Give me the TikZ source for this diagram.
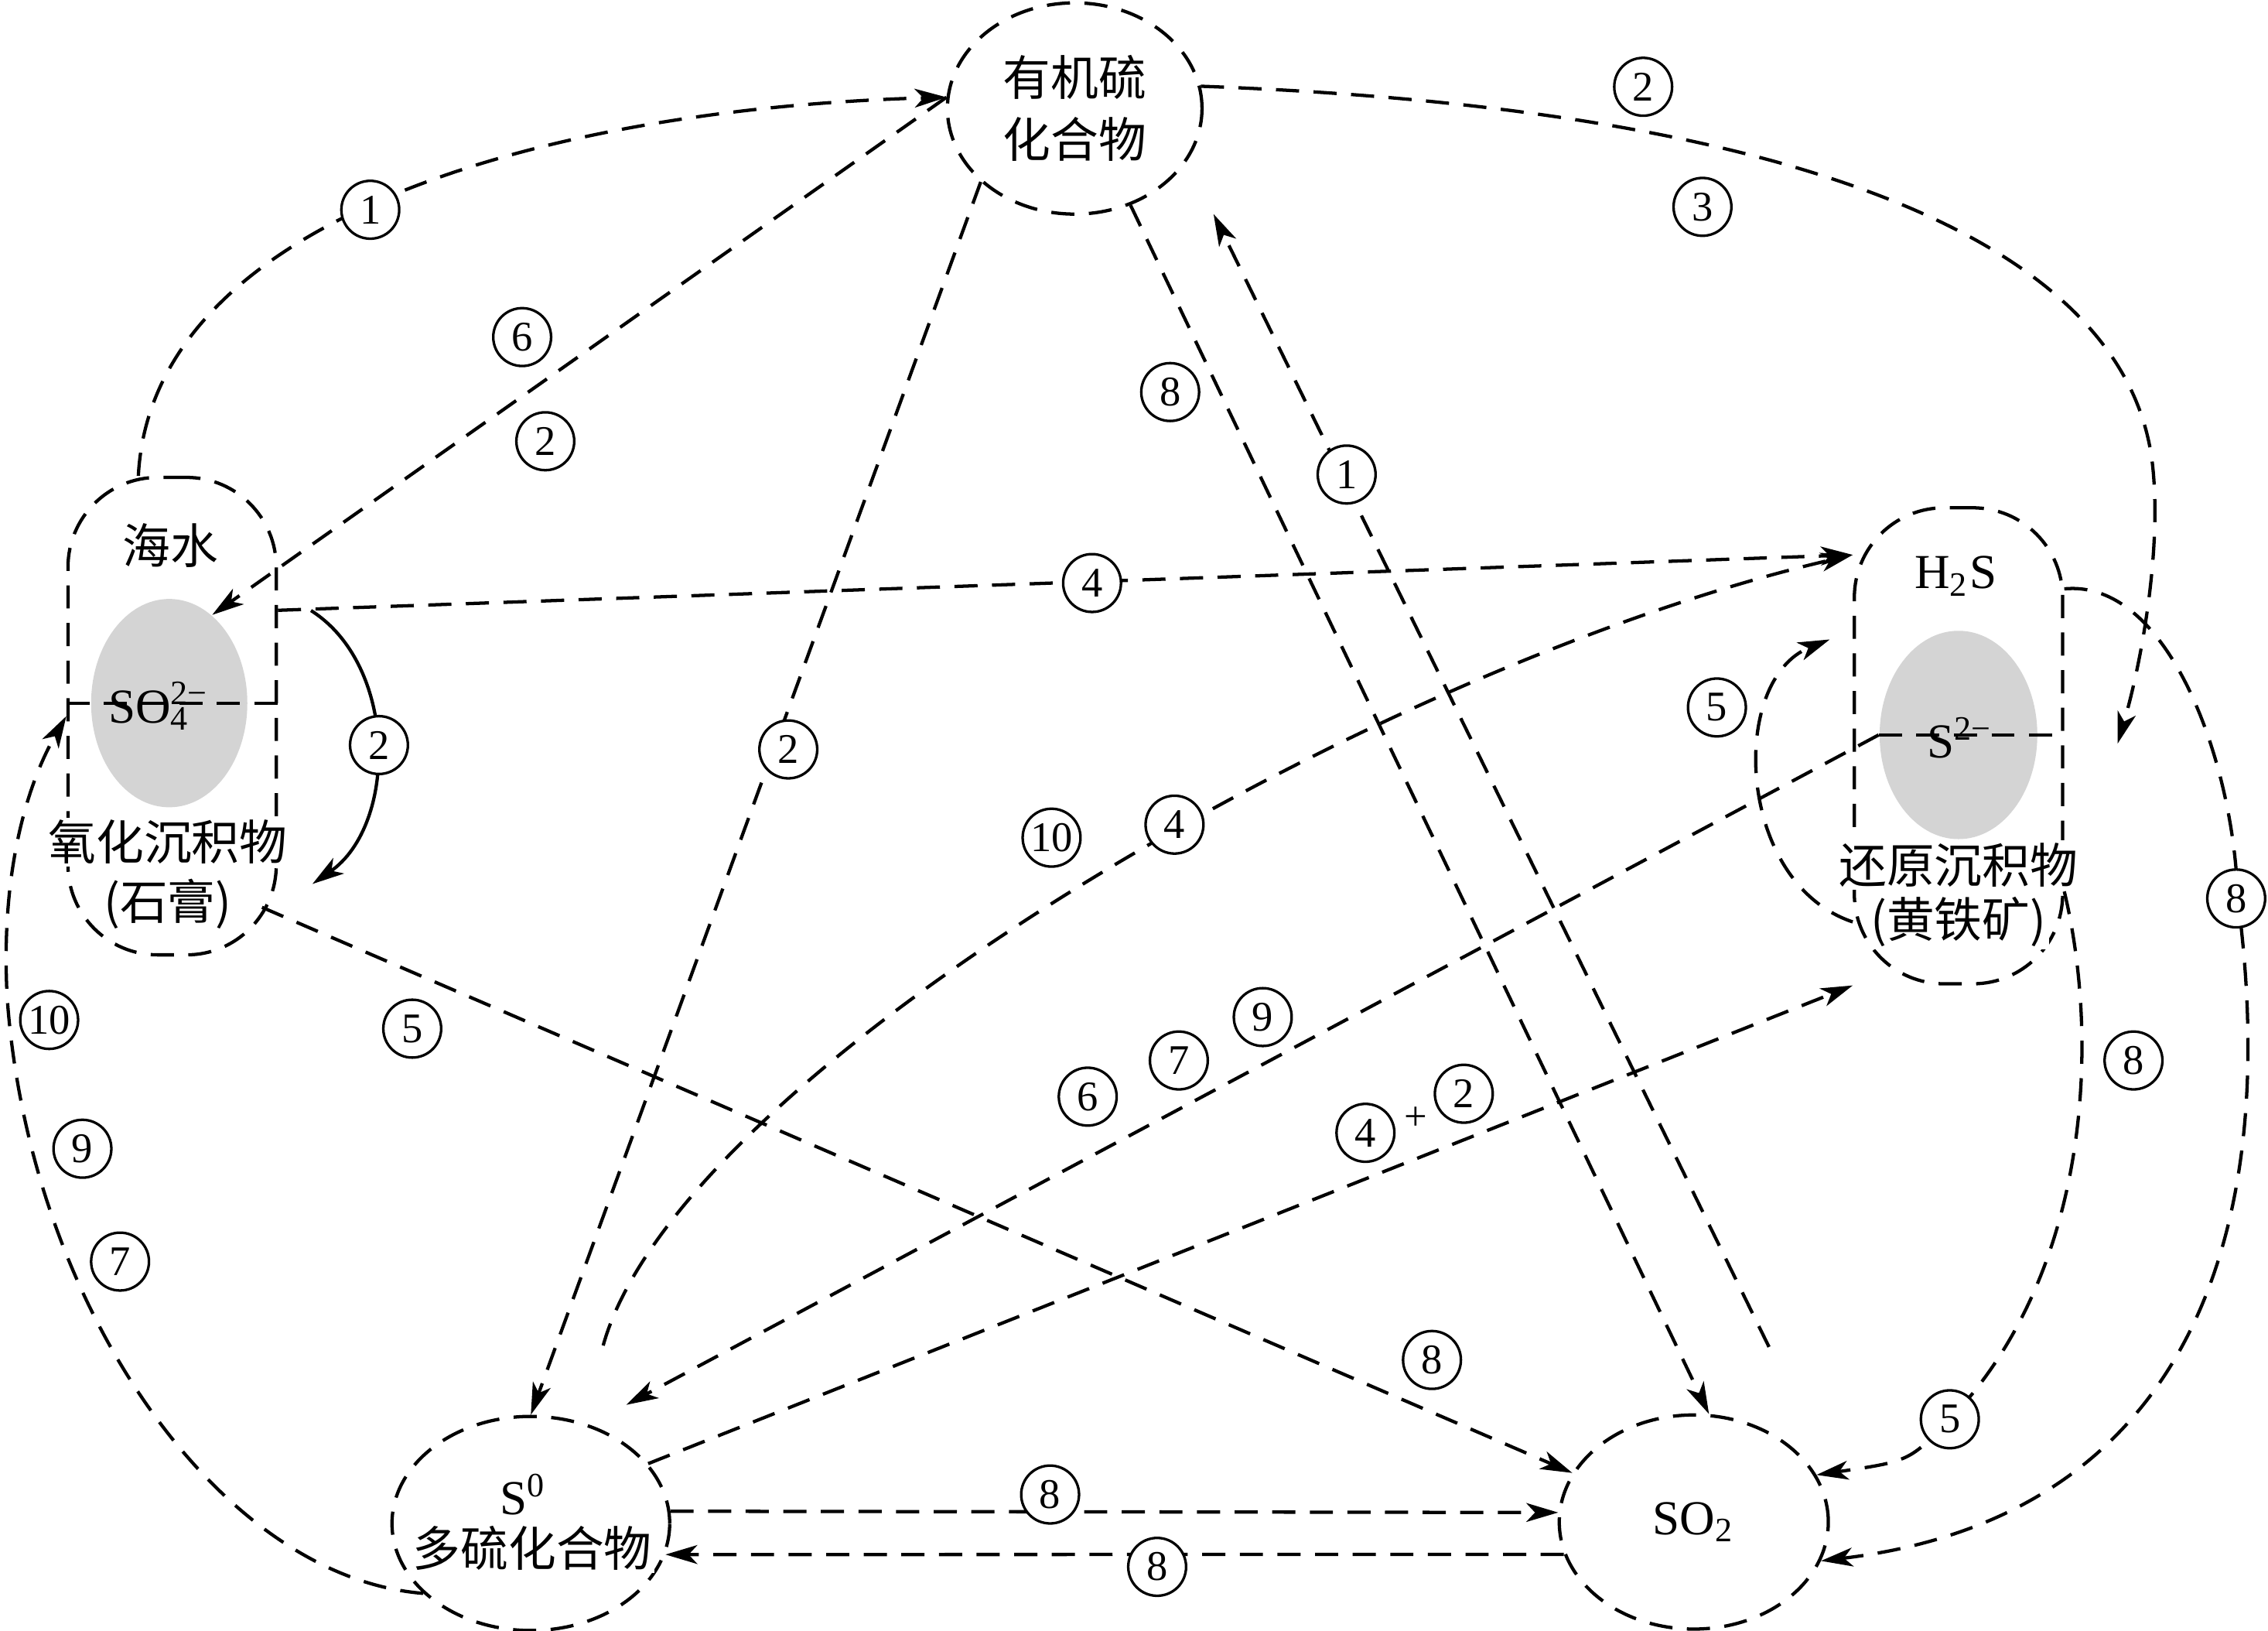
\documentclass[tikz,border=0pt]{standalone}
\usepackage{fontspec}
\setmainfont{Liberation Serif}
\newfontfamily\cjk{Noto Sans CJK SC}
\usetikzlibrary{arrows.meta,shapes.geometric,calc}

\begin{document}
\begin{tikzpicture}[
    dashline/.style={dash pattern=on 1.6mm off 1mm, line width=0.65pt},
    arr/.style={-{Stealth[length=2.2mm,width=1.3mm,inset=0.6mm]}},
    sitebox/.style={rectangle, rounded corners=6.2mm, minimum width=1.44cm, minimum height=3.3cm,
      draw, dashline, inner sep=0pt},
    poolnode/.style={ellipse, draw, dashline, inner sep=0pt},
    coreblob/.style={ellipse, fill=black!17, minimum width=1.08cm, minimum height=1.44cm, inner sep=0pt},
    cntext/.style={font=\cjk\fontsize{9.4}{12.2}\selectfont, inner sep=0.5pt},
    chem/.style={font=\fontsize{9.6}{11}\selectfont, inner sep=0pt},
    numtag/.style={circle, draw, line width=0.5pt, fill=white, minimum size=4mm, inner sep=0pt,
      font=\fontsize{8.3}{9}\selectfont}
  ]
    \useasboundingbox (0,0) rectangle (15.68,-11.27);

    % Pools
    \node[poolnode, cntext, align=center, minimum width=1.76cm, minimum height=1.46cm]
      (org) at (7.43,-0.75) {有机硫\\化合物};
    \node[poolnode, chem, minimum width=1.86cm, minimum height=1.48cm] (so2) at (11.71,-10.52) {SO\textsubscript{2}};
    \node[poolnode, minimum width=1.92cm, minimum height=1.48cm] (s0) at (3.67,-10.53) {};

    % Sediment boxes
    \node[sitebox] (sea) at (1.19,-4.95) {};
    \node[coreblob] (so4) at (1.17,-4.86) {};
    \draw[dashline] (so4 -| sea.west) -- (so4 -| sea.east);

    \node[sitebox, minimum height=3.29cm] (red) at (13.54,-5.155) {};
    \node[coreblob, minimum width=1.09cm] (s2) at (13.54,-5.08) {};
    \draw[dashline] (s2.west) -- (s2.west -| red.east);

    % Free ends
    \coordinate (c2) at (14.64,-5.14);
    \coordinate (e1) at (2.15,-4.22);
    \coordinate (e2) at (2.16,-6.11);
    \coordinate (jfoot) at (12.23,-9.31);
    \coordinate (jtip) at (8.39,-1.48);
    \coordinate (kfoot) at (4.17,-9.30);
    \coordinate (ltip) at (12.65,-4.42);
    \coordinate (mtip) at (4.33,-9.71);

    % Fluxes
    \draw[dashline, arr] (sea.98) .. controls (1.05,-1.50) and (3.80,-0.75) .. (org.175);
    \draw[dashline, arr] (org.175) -- (so4.64);
    \draw[dashline, arr] (org.10) .. controls (12.50,-0.75) and (14.70,-1.70) .. (14.88,-3.20)
      .. controls (14.95,-3.80) and (14.80,-4.60) .. (c2);
    \draw[dashline, arr] (sea.45) -- (red.119);
    \draw[line width=0.65pt, arr] (e1) .. controls (2.75,-4.60) and (2.75,-5.70) .. (e2);
    \draw[dashline, arr] ($(sea.south east)+(-0.11,0.34)$) -- (so2.158);
    \draw[dashline, arr] (s0.213) .. controls (1.50,-10.90) and (0.20,-9.00) .. (0.05,-6.90)
      .. controls (0.00,-6.00) and (0.20,-5.40) .. (sea.west);
    \draw[dashline, arr] (org.218) -- (s0.north);
    \draw[dashline, arr] (org.300) -- (so2.82);
    \draw[dashline, arr] (jfoot) -- (jtip);
    \draw[dashline, arr] (kfoot) .. controls (4.70,-7.40) and (9.50,-4.60) .. (red.119);
    \draw[dashline, arr] (red.239) .. controls (12.00,-6.10) and (11.95,-4.70) .. (ltip);
    \draw[dashline, arr] (s2.west) -- (mtip);
    \draw[dashline, arr] (s0.27) -- (red.south west);
    \draw[dashline, arr] (red.56) .. controls (15.00,-4.00) and (15.45,-5.30) .. (15.47,-6.21)
      .. controls (15.80,-8.70) and (15.00,-10.50) .. (so2.343);
    \draw[dashline, arr] (red.306) .. controls (14.52,-7.20) and (14.45,-8.80) .. (13.48,-9.81)
      .. controls (13.20,-10.10) .. (so2.21);
    \draw[dashline, arr] (s0.5) -- (so2.176);
    \draw[dashline, arr] (so2.194) -- (s0.347);

    % Texts
    \node[chem] (s0lab) at (3.62,-10.33) {S\textsuperscript{0}};
    \node[cntext, fill=white] (polylab) at (3.68,-10.70) {多硫化合物};
    \node[cntext] (sealab) at (1.18,-3.77) {海水};
    \node[chem] (so4lab) at (1.10,-4.88) {SO\rlap{\textsubscript{4}}\textsuperscript{2−}};
    \node[cntext, fill=white] (oxlab) at (1.16,-5.82) {氧化沉积物};
    \node[cntext, fill=white] (gyplab) at (1.16,-6.25) {(石膏)};
    \node[chem] (h2slab) at (13.52,-3.98) {H\textsubscript{2}S};
    \node[chem] (s2lab) at (13.55,-5.10) {S\textsuperscript{2−}};
    \node[cntext, fill=white] (pyrlab) at (13.54,-5.98) {还原沉积物};
    \node[cntext, fill=white] (fesLab) at (13.54,-6.37) {(黄铁矿)};

    % Process numbers
    \node[numtag] (tA) at (2.56,-1.45) {1};
    \node[numtag] (tB1) at (3.61,-2.33) {6};
    \node[numtag] (tB2) at (3.77,-3.05) {2};
    \node[numtag] (tC1) at (11.36,-0.60) {2};
    \node[numtag] (tC2) at (11.77,-1.43) {3};
    \node[numtag] (tD) at (7.55,-4.03) {4};
    \node[numtag] (tE) at (2.62,-5.15) {2};
    \node[numtag] (tF) at (2.85,-7.11) {5};
    \node[numtag] (tG1) at (0.34,-7.05) {10};
    \node[numtag] (tG2) at (0.57,-7.94) {9};
    \node[numtag] (tG3) at (0.83,-8.72) {7};
    \node[numtag] (tH) at (5.45,-5.18) {2};
    \node[numtag] (tI) at (8.09,-2.71) {8};
    \node[numtag] (tJ) at (9.31,-3.28) {1};
    \node[numtag] (tK1) at (7.27,-5.79) {10};
    \node[numtag] (tK2) at (8.12,-5.70) {4};
    \node[numtag] (tL) at (11.87,-4.89) {5};
    \node[numtag] (tM1) at (7.52,-7.58) {6};
    \node[numtag] (tM2) at (8.15,-7.33) {7};
    \node[numtag] (tM3) at (8.73,-7.03) {9};
    \node[numtag] (tN1) at (9.44,-7.83) {4};
    \node[font=\fontsize{8}{9}\selectfont, inner sep=0pt] (plus) at (9.79,-7.73) {+};
    \node[numtag] (tN2) at (10.12,-7.56) {2};
    \node[numtag] (tO) at (15.46,-6.21) {8};
    \node[numtag] (tP1) at (14.75,-7.33) {8};
    \node[numtag] (tP2) at (13.48,-9.81) {5};
    \node[numtag] (tQ) at (7.26,-10.33) {8};
    \node[numtag] (tR) at (8.00,-10.83) {8};
    \node[numtag] (tS) at (9.90,-9.40) {8};
  \end{tikzpicture}
\end{document}
